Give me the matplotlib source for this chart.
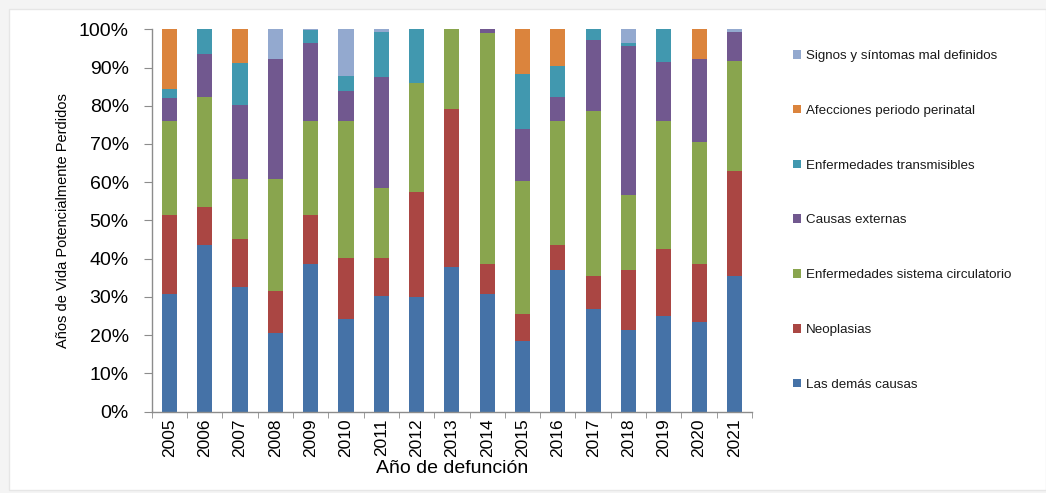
import numpy as np
import matplotlib
matplotlib.use('Agg')
import matplotlib.pyplot as plt
from matplotlib.patches import Rectangle
from matplotlib.ticker import PercentFormatter, FixedLocator

plt.rcParams['font.family'] = ['Liberation Sans', 'DejaVu Sans']

###############################################################################
# Data (percent of total)
###############################################################################
years = ['2005', '2006', '2007', '2008', '2009', '2010', '2011', '2012', '2013',
         '2014', '2015', '2016', '2017', '2018', '2019', '2020', '2021']
demas = [30.8, 43.6, 32.7, 20.5, 38.5, 24.1, 30.2, 30.0, 37.7,
         30.8, 18.4, 37.1, 26.9, 21.4, 25.0, 23.5, 35.5]
neoplasias = [20.6, 9.9, 12.5, 10.9, 12.8, 16.0, 9.9, 27.3, 41.5,
              7.9, 7.0, 6.5, 8.6, 15.5, 17.4, 15.0, 27.5]
circulatorio = [24.5, 28.8, 15.5, 29.5, 24.7, 35.8, 18.5, 28.7, 20.8,
                60.2, 34.9, 32.3, 43.1, 19.8, 33.6, 32.1, 28.8]
externas = [6.2, 11.3, 19.6, 31.3, 20.5, 8.0, 28.9, 0.0, 0.0,
            1.1, 13.6, 6.4, 18.7, 38.8, 15.5, 21.6, 7.6]
transmisibles = [2.3, 6.4, 10.9, 0.0, 3.2, 3.8, 11.9, 14.0, 0.0,
                 0.0, 14.5, 8.2, 2.7, 0.8, 8.5, 0.0, 0.0]
perinatal = [15.6, 0.0, 8.8, 0.0, 0.0, 0.0, 0.0, 0.0, 0.0,
             0.0, 11.6, 9.5, 0.0, 0.0, 0.0, 7.9, 0.0]
signos = [0.0, 0.0, 0.0, 7.8, 0.3, 12.3, 0.6, 0.0, 0.0,
          0.0, 0.0, 0.0, 0.0, 3.7, 0.0, 0.0, 0.6]

series = [
    ('Las demás causas', demas, '#4572A7'),
    ('Neoplasias', neoplasias, '#AA4643'),
    ('Enfermedades sistema circulatorio', circulatorio, '#89A54E'),
    ('Causas externas', externas, '#71588F'),
    ('Enfermedades transmisibles', transmisibles, '#4198AF'),
    ('Afecciones periodo perinatal', perinatal, '#DB843D'),
    ('Signos y síntomas mal definidos', signos, '#93A9CF'),
]

###############################################################################
# Plot
###############################################################################
fig = plt.figure(figsize=(10.46, 4.93), dpi=100, facecolor='#f4f4f4')
fig.patches.append(Rectangle((9/1046, 3/493), 1 - 9/1046, 1 - 12/493,
                             transform=fig.transFigure, facecolor='white',
                             edgecolor='#e6e6e6', linewidth=1, zorder=-5))
ax = fig.add_axes([0.145, 0.1653, 0.574, 0.7753])
ax.set_facecolor('none')

x = np.arange(len(years))
tot = np.array([sum(s[1][i] for s in series) for i in range(len(years))])
bottom = np.zeros(len(years))
for (name, vals, col) in series:
    v = np.array(vals) / tot * 100
    ax.bar(x, v, 0.43, bottom=bottom, color=col, label=name,
           edgecolor='none', zorder=2)
    bottom += v

ax.set_xlim(-0.5, len(years) - 0.5)
ax.set_ylim(0, 100)
ax.set_yticks(np.arange(0, 101, 10))
ax.yaxis.set_major_formatter(PercentFormatter(decimals=0))
ax.set_xticks(x)
ax.set_xticklabels(years, rotation=90, fontsize=12.5)
ax.xaxis.set_minor_locator(FixedLocator(np.arange(-0.5, len(years), 1)))
ax.tick_params(axis='x', which='major', length=0, pad=5)
ax.tick_params(axis='x', which='minor', length=4.5, color='#8c8c8c', direction='out')
ax.tick_params(axis='y', length=6, color='#8c8c8c', labelsize=14, pad=10.5)
for sp in ('top', 'right'):
    ax.spines[sp].set_visible(False)
for sp in ('left', 'bottom'):
    ax.spines[sp].set_color('#8c8c8c')
    ax.spines[sp].set_linewidth(1)

ax.set_xlabel('Año de defunción', fontsize=14, labelpad=2)
ax.set_ylabel('Años de Vida Potencialmente Perdidos', fontsize=10.5, labelpad=6)

(h, l) = ax.get_legend_handles_labels()
leg = fig.legend(h[::-1], l[::-1], loc='upper left',
                 bbox_to_anchor=(781/1046, 1 - 38/493), frameon=False,
                 fontsize=9.6, handlelength=0.6, handleheight=0.6,
                 handletextpad=0.35, labelspacing=3.21)
for t in leg.get_texts():
    t.set_color('#1a1a1a')

plt.savefig('out.png', dpi=100, facecolor=fig.get_facecolor())
plt.close('all')
